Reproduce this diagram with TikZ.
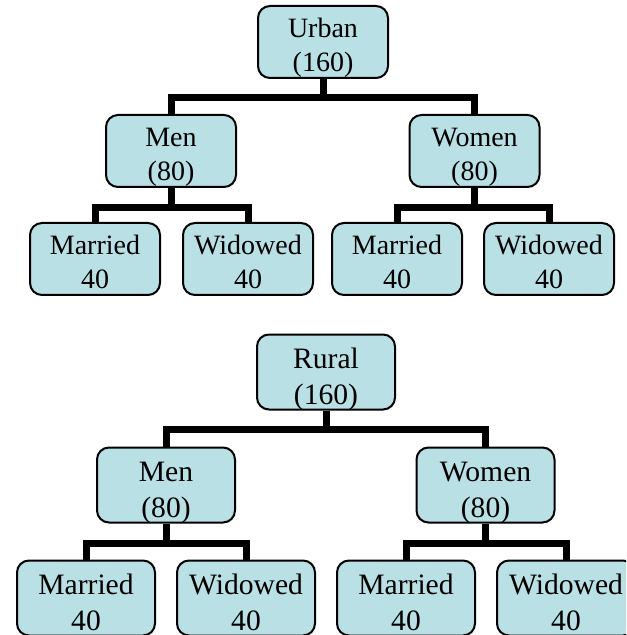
\documentclass[tikz,border=0pt]{standalone}
\usepackage{fontspec}
\setmainfont{Liberation Serif}
\usetikzlibrary{positioning}
\definecolor{boxfill}{RGB}{185,224,228}

\begin{document}
\begin{tikzpicture}[x=0.5pt,y=-0.5pt,
    unit/.style={draw=black,line width=1pt,fill=boxfill,rounded corners=6pt,
        align=center,inner sep=0pt,minimum width=65pt,minimum height=36pt,
        font=\fontsize{14}{17}\selectfont,text depth=0pt,
        execute at begin node={\rule{0pt}{29.1pt}}},
    runit/.style={unit,minimum width=69pt,minimum height=37.5pt,
        font=\fontsize{14.8}{18}\selectfont,
        execute at begin node={\rule{0pt}{32.6pt}}},
    tie/.style={draw=black,line width=3.5pt}]
    \clip (0,0) rectangle (626,635);
    % urban
    \node [unit] (urban) at (323,42) {Urban\\(160)};
    \node [unit] (umen) at (171,151) {Men\\(80)};
    \node [unit] (uwomen) at (474.5,151) {Women\\(80)};
    \node [unit] (umm) at (95,259) {Married\\40};
    \node [unit] (umw) at (248,259) {Widowed\\40};
    \node [unit] (uwm) at (397,259) {Married\\40};
    \node [unit] (uww) at (549,259) {Widowed\\40};
    \draw [tie] (urban.south) -- ++(0,19) coordinate (ujoin);
    \draw [tie] (umen.north) |- (ujoin) -| (uwomen.north);
    \draw [tie] (umen.south) -- ++(0,20) coordinate (umjoin);
    \draw [tie] (umm.north) |- (umjoin) -| (umw.north);
    \draw [tie] (uwomen.south) -- ++(0,20) coordinate (uwjoin);
    \draw [tie] (uwm.north) |- (uwjoin) -| (uww.north);
    % rural
    \node [runit] (rural) at (326,372) {Rural\\(160)};
    \node [runit] (rmen) at (166,485) {Men\\(80)};
    \node [runit] (rwomen) at (485.5,485) {Women\\(80)};
    \node [runit] (rmm) at (86,598) {Married\\40};
    \node [runit] (rmw) at (246,598) {Widowed\\40};
    \node [runit] (rwm) at (406,598) {Married\\40};
    \node [runit] (rww) at (566,598) {Widowed\\40};
    \draw [tie] (rural.south) -- ++(0,18.5) coordinate (rjoin);
    \draw [tie] (rmen.north) |- (rjoin) -| (rwomen.north);
    \draw [tie] (rmen.south) -- ++(0,20) coordinate (rmjoin);
    \draw [tie] (rmm.north) |- (rmjoin) -| (rmw.north);
    \draw [tie] (rwomen.south) -- ++(0,20) coordinate (rwjoin);
    \draw [tie] (rwm.north) |- (rwjoin) -| (rww.north);
\end{tikzpicture}
\end{document}
